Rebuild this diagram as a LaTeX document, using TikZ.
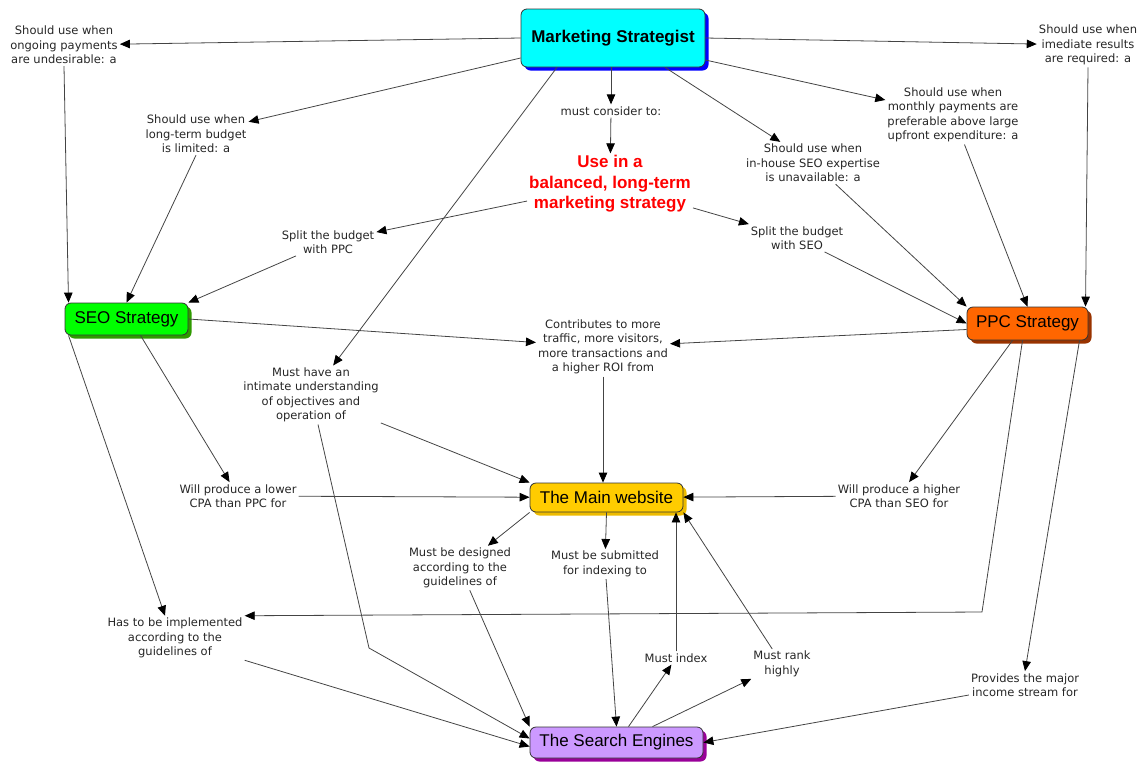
\documentclass[tikz,border=0pt]{standalone}
\usepackage{fontspec}
\setmainfont{Liberation Sans}
\newfontfamily\dejavu{DejaVu Sans}
\usetikzlibrary{arrows.meta,shadows}
\definecolor{cmsfill}{HTML}{00FFFF}
\definecolor{cmsshad}{HTML}{0000FF}
\definecolor{cseofill}{HTML}{00FF00}
\definecolor{cseoshad}{HTML}{2F9A00}
\definecolor{cppcfill}{HTML}{FF6600}
\definecolor{cppcshad}{HTML}{993300}
\definecolor{cmainfill}{HTML}{FFCC00}
\definecolor{cmainshad}{HTML}{EDBB00}
\definecolor{csefill}{HTML}{CC99FF}
\definecolor{cseshad}{HTML}{990099}
\definecolor{cline}{HTML}{444444}
\begin{document}
\begin{tikzpicture}[x=1pt,y=-1pt,
  box/.style={draw=black!80, line width=0.8pt, rounded corners=6pt,
    font=\fontsize{17}{20}\selectfont, inner sep=0pt, align=center},
  shad/.style={general shadow={fill=#1, shadow xshift=3.5pt, shadow yshift=-3.5pt}},
  lbl/.style={font=\dejavu\fontsize{11.5}{14.5}\selectfont, text=black!85, align=center, inner sep=2pt},
  conn/.style={draw=cline, line width=0.8pt, -{Triangle[length=10pt,width=8.5pt,color=black]}}
]
\useasboundingbox (0,0) rectangle (1147,764);

% main nodes
\node[box, shad=cmsshad, fill=cmsfill, minimum width=184pt, minimum height=58pt,
  font=\fontsize{17}{20}\selectfont\bfseries] (ms) at (613,38) {Marketing Strategist};
\node[box, shad=cseoshad, fill=cseofill, minimum width=123pt, minimum height=32pt] (seo) at (126.5,319) {SEO Strategy};
\node[box, shad=cppcshad, fill=cppcfill, minimum width=121pt, minimum height=33pt] (ppc) at (1027.5,323.5) {PPC Strategy};
\node[box, shad=cmainshad, fill=cmainfill, minimum width=153pt, minimum height=29pt] (main) at (606.5,497.5) {The Main website};
\node[box, shad=cseshad, fill=csefill, minimum width=173pt, minimum height=31pt] (se) at (616.5,742.5) {The Search Engines};

\node[align=center, text=red, font=\fontsize{17}{20.5}\selectfont\bfseries, inner sep=2pt] (red) at (610,184)
  {Use in a\\balanced, long-term\\marketing strategy};

% labels
\node[lbl] (ongoing) at (64,45) {Should use when\\ongoing payments\\are undesirable: a};
\node[lbl] (imed) at (1088,45) {Should use when\\imediate results\\are required: a};
\node[lbl] (longterm) at (196,134) {Should use when\\long-term budget\\is limited: a};
\node[lbl] (consider) at (611,111) {must consider to:};
\node[lbl] (inhouse) at (813,163) {Should use when\\in-house SEO expertise\\is unavailable: a};
\node[lbl] (monthly) at (953,115) {Should use when\\monthly payments are\\preferable above large\\upfront expenditure: a};
\node[lbl] (splitppc) at (328,242) {Split the budget\\with PPC};
\node[lbl] (splitseo) at (797,238) {Split the budget\\with SEO};
\node[lbl] (contrib) at (603,347) {Contributes to more\\traffic, more visitors,\\more transactions and\\a higher ROI from};
\node[lbl] (musthave) at (311,395) {Must have an\\intimate understanding\\of objectives and\\operation of};
\node[lbl] (lower) at (238,496) {Will produce a lower\\CPA than PPC for};
\node[lbl] (higher) at (899,496) {Will produce a higher\\CPA than SEO for};
\node[lbl] (designed) at (460,568) {Must be designed\\according to the\\guidelines of};
\node[lbl] (submitted) at (605,564) {Must be submitted\\for indexing to};
\node[lbl] (has) at (175,638) {Has to be implemented\\according to the\\guidelines of};
\node[lbl] (mustindex) at (676,658) {Must index};
\node[lbl] (mustrank) at (782,664) {Must rank\\highly};
\node[lbl] (provides) at (1025,685) {Provides the major\\income stream for};

\coordinate (bendA) at (369,648);
\coordinate (bendB) at (982,612);

% connectors
\draw[conn] (ms.west) -- (ongoing);
\draw[conn] (ongoing.south) -- ([xshift=-58pt]seo.north);
\draw[conn] (ms.east) -- (imed);
\draw[conn] (imed.south) -- ([xshift=58pt]ppc.north);
\draw[conn] ([yshift=-20pt]ms.west) -- (longterm);
\draw[conn] (longterm.south) -- (seo.north);
\draw[conn] ([xshift=-2pt]ms.south) -- (consider);
\draw[conn] (consider) -- (red);
\draw[conn] ([xshift=52pt]ms.south) -- (inhouse);
\draw[conn] (inhouse) -- (ppc.north west);
\draw[conn] ([yshift=-22pt]ms.east) -- (monthly);
\draw[conn] (monthly) -- (ppc.north);
\draw[conn] ([xshift=-56pt]ms.south) -- (musthave);
\draw[conn] (musthave) -- (main.north west);
\draw[conn] ([xshift=7pt]musthave.south) -- (bendA) -- ([yshift=4pt]se.west);
\draw[conn] (red) -- (splitppc);
\draw[conn] (splitppc) -- (seo.north east);
\draw[conn] (red) -- (splitseo);
\draw[conn] (splitseo) -- (ppc.west);
\draw[conn] (seo.east) -- (contrib);
\draw[conn] ([yshift=-6pt]ppc.west) -- (contrib);
\draw[conn] (contrib.south) -- (contrib.south |- main.north);
\draw[conn] ([xshift=14pt]seo.south) -- (lower);
\draw[conn] (lower) -- (main);
\draw[conn] ([xshift=-15pt]ppc.south) -- (higher);
\draw[conn] (higher) -- (main);
\draw[conn] (main.south west) -- (designed);
\draw[conn] (designed) -- (se.north west);
\draw[conn] (main.south) -- (submitted);
\draw[conn] (submitted) -- (se.north);
\draw[conn] ([xshift=-58pt]seo.south) -- ([xshift=-10pt]has.north);
\draw[conn] ([xshift=-5pt]ppc.south) -- (bendB) -- (has.north east);
\draw[conn] (has.south east) -- ([yshift=-4pt]se.west);
\draw[conn] ([xshift=12pt]se.north) -- (mustindex);
\draw[conn] (mustindex.north) -- (mustindex.north |- main.south);
\draw[conn] ([xshift=36pt]se.north) -- (mustrank);
\draw[conn] (mustrank) -- (main.south east);
\draw[conn] ([xshift=52pt]ppc.south) -- (provides.north);
\draw[conn] (provides) -- (se.east);
\end{tikzpicture}
\end{document}
